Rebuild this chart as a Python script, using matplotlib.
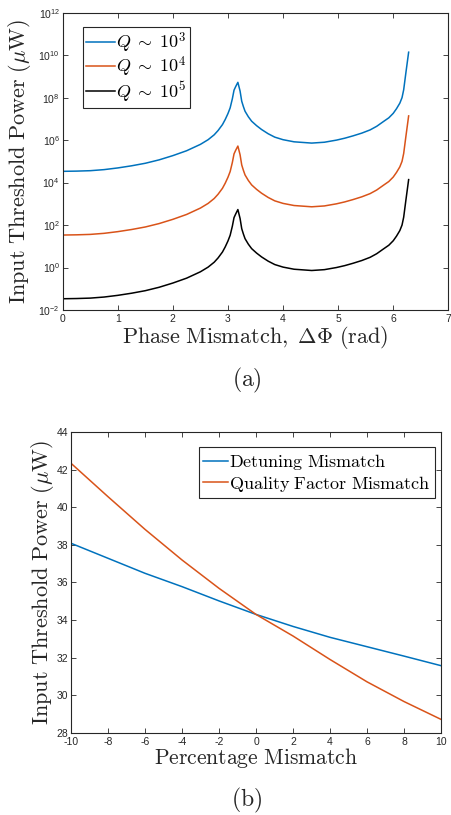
import numpy as np
import matplotlib
matplotlib.use("Agg")
import matplotlib.pyplot as plt
from matplotlib.ticker import FixedLocator, FuncFormatter

plt.rcParams['mathtext.fontset'] = 'cm'
plt.rcParams['font.family'] = ['Liberation Sans', 'DejaVu Sans']
plt.rcParams['axes.unicode_minus'] = False

# ---------------- data (a) ----------------
phase = [0.0, 0.25, 0.5, 0.75, 1.0, 1.25, 1.5, 1.75, 2.0, 2.25, 2.5, 2.64, 2.75, 2.82,
         2.9, 2.95, 3.0, 3.04, 3.08, 3.11, 3.14, 3.18, 3.22, 3.25, 3.28, 3.31, 3.37,
         3.43, 3.52, 3.61, 3.73, 3.85, 4.0, 4.2, 4.52, 4.75, 4.97, 5.12, 5.27, 5.43,
         5.58, 5.7, 5.82, 5.92, 6.0, 6.06, 6.12, 6.16, 6.19, 6.23, 6.28]
log_q3 = [4.53, 4.54, 4.56, 4.61, 4.69, 4.79, 4.91, 5.07, 5.27, 5.50, 5.80, 6.02, 6.25, 6.45,
          6.73, 6.97, 7.25, 7.52, 7.95, 8.35, 8.52, 8.72, 8.31, 7.83, 7.58, 7.36, 7.10,
          6.89, 6.68, 6.50, 6.30, 6.14, 6.02, 5.92, 5.86, 5.90, 6.00, 6.09, 6.20, 6.33,
          6.48, 6.65, 6.87, 7.05, 7.26, 7.48, 7.74, 8.00, 8.37, 9.17, 10.14]
log_q4 = [1.53, 1.54, 1.56, 1.61, 1.69, 1.79, 1.91, 2.07, 2.27, 2.50, 2.80, 3.02, 3.25, 3.45,
          3.73, 3.97, 4.25, 4.52, 4.95, 5.35, 5.52, 5.72, 5.31, 4.83, 4.58, 4.36, 4.10,
          3.89, 3.68, 3.50, 3.30, 3.14, 3.02, 2.92, 2.86, 2.90, 3.00, 3.09, 3.20, 3.33,
          3.48, 3.65, 3.87, 4.05, 4.26, 4.48, 4.74, 5.00, 5.37, 6.17, 7.14]
log_q5 = [-1.47, -1.46, -1.44, -1.39, -1.31, -1.21, -1.09, -0.93, -0.73, -0.50, -0.20, 0.02, 0.25, 0.45,
          0.73, 0.97, 1.25, 1.52, 1.95, 2.35, 2.52, 2.73, 2.31, 1.83, 1.58, 1.36, 1.10,
          0.89, 0.68, 0.50, 0.30, 0.14, 0.02, -0.08, -0.14, -0.10, 0.00, 0.09, 0.20, 0.33,
          0.48, 0.65, 0.87, 1.05, 1.26, 1.48, 1.74, 2.00, 2.37, 3.17, 4.14]
labels_a = [r'$Q\;\sim\;10^3$', r'$Q\;\sim\;10^4$', r'$Q\;\sim\;10^5$']

# ---------------- data (b) ----------------
pct = [-10, -8, -6, -4, -2, 0, 2, 4, 6, 8, 10]
detuning = [38.09, 37.29, 36.49, 35.78, 35.02, 34.30, 33.66, 33.08, 32.58, 32.08, 31.57]
quality = [42.35, 40.57, 38.83, 37.20, 35.69, 34.30, 33.15, 31.90, 30.71, 29.66, 28.71]
labels_b = [r'$\mathrm{Detuning\ Mismatch}$', r'$\mathrm{Quality\ Factor\ Mismatch}$']

blue = '#0072BD'
orange = '#D95319'
axcol = '#262626'
txtcol = '#262626'

fig = plt.figure(figsize=(4.51, 8.15), dpi=100)

def style(ax):
    for s in ax.spines.values():
        s.set_color(axcol)
        s.set_linewidth(0.8)
    ax.tick_params(direction='in', top=True, right=True, length=3.5, width=0.6,
                   colors=axcol, labelsize=7.5, pad=2)
    ax.tick_params(axis='x', pad=3)
    ax.tick_params(which='minor', length=0)

# ---- top axes ----
ax1 = fig.add_axes([62.7/451, 1-310/815, 385.6/451, 297.3/815])
for ys, c, lab in zip([log_q3, log_q4, log_q5], [blue, orange, 'black'], labels_a):
    ax1.semilogy(phase, 10**np.array(ys), color=c, lw=1.1, label=lab)
ax1.set_xlim(0, 7)
ax1.set_ylim(1e-2, 1e12)
ax1.set_xticks(range(0, 8))
ax1.yaxis.set_major_locator(FixedLocator([10.0**k for k in range(-2, 13, 2)]))
ax1.yaxis.set_minor_locator(FixedLocator([]))
ax1.yaxis.set_major_formatter(FuncFormatter(
    lambda v, p: r'$\mathregular{10^{%d}}$' % int(round(np.log10(v)))))
style(ax1)
ax1.set_xlabel(r'$\mathrm{Phase\ Mismatch,\ \Delta\Phi\ (rad)}$', fontsize=16, color=txtcol)
ax1.xaxis.set_label_coords(0.5, -0.094)
ax1.xaxis.label.set_va('center')
ax1.set_ylabel(r'$\mathrm{Input\ Threshold\ Power\ (}\mu\mathrm{W)}$', fontsize=16, color=txtcol)
ax1.yaxis.set_label_coords(-0.111, 0.5)
ax1.yaxis.label.set_va('center')
leg1 = ax1.legend(loc='upper left', bbox_to_anchor=(0.052, 0.953), fontsize=13,
                  handlelength=1.6, handletextpad=0.05, borderpad=0.2,
                  labelspacing=0.0, borderaxespad=0, fancybox=False)
leg1.get_frame().set_edgecolor(axcol)
leg1.get_frame().set_linewidth(0.8)
leg1.get_frame().set_alpha(1)

# ---- bottom axes ----
ax2 = fig.add_axes([71/451, 1-732.7/815, 370/451, 300.4/815])
ax2.plot(pct, detuning, color=blue, lw=1.1, label=labels_b[0])
ax2.plot(pct, quality, color=orange, lw=1.1, label=labels_b[1])
ax2.set_xlim(-10, 10)
ax2.set_ylim(28, 44)
ax2.set_xticks(range(-10, 11, 2))
ax2.set_yticks(range(28, 45, 2))
style(ax2)
ax2.set_xlabel(r'$\mathrm{Percentage\ Mismatch}$', fontsize=15.5, color=txtcol)
ax2.xaxis.set_label_coords(0.5, -0.083)
ax2.xaxis.label.set_va('center')
ax2.set_ylabel(r'$\mathrm{Input\ Threshold\ Power\ (}\mu\mathrm{W)}$', fontsize=16, color=txtcol)
ax2.yaxis.set_label_coords(-0.078, 0.5)
ax2.yaxis.label.set_va('center')
leg2 = ax2.legend(loc='upper right', bbox_to_anchor=(0.985, 0.95), fontsize=13,
                  handlelength=1.4, handletextpad=0.05, borderpad=0.25,
                  labelspacing=0.1, borderaxespad=0, fancybox=False)
leg2.get_frame().set_edgecolor(axcol)
leg2.get_frame().set_linewidth(0.8)
leg2.get_frame().set_alpha(1)

fig.text(247/451, 1-380/815, r'$\mathrm{(a)}$', ha='center', va='center', fontsize=17, color=txtcol)
fig.text(247/451, 1-800/815, r'$\mathrm{(b)}$', ha='center', va='center', fontsize=17, color=txtcol)

fig.savefig('out.png', dpi=100)
